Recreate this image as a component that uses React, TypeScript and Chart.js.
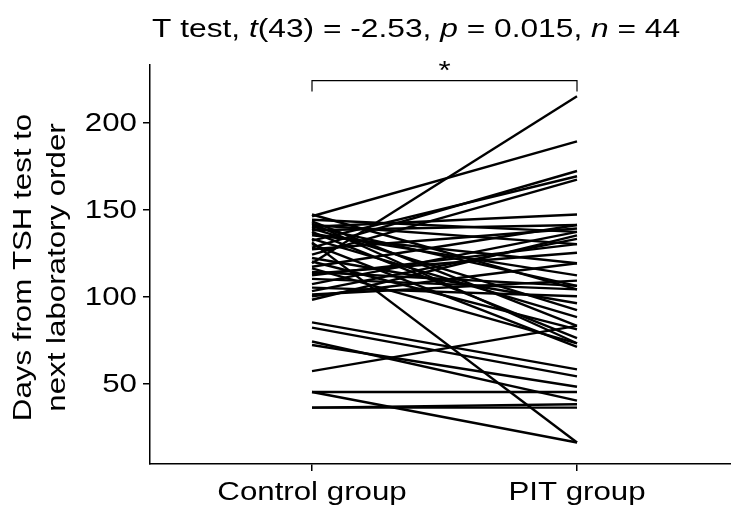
import React, { useEffect, useRef } from "react";
import { Chart, registerables } from "chart.js";

Chart.register(...registerables);

const W = 731;
const H = 512;

const categories = ["Control group", "PIT group"];
const controlGroup = [
  119, 146, 128, 132, 124, 140, 131, 45, 57, 74, 72, 85, 82, 45, 36, 36,
  147, 144, 143, 142, 141, 140, 139, 138, 137, 136, 135, 133, 130, 127,
  122, 120, 117, 116, 114, 113, 112, 110, 107, 105, 103, 101, 100, 98,
];
const pitGroup = [
  215, 189, 172, 169, 167, 147, 16, 16, 83, 40, 48, 58, 54, 45, 38, 36,
  104, 137, 83, 73, 130, 106, 92, 141, 76, 112, 119, 88, 71, 139,
  96, 81, 141, 73, 106, 125, 130, 104, 137, 100, 133, 109, 119, 135,
];
const yTicks = [50, 100, 150, 200];
const titleParts = [
  { text: "T test, ", italic: false },
  { text: "t", italic: true },
  { text: "(43) = -2.53, ", italic: false },
  { text: "p", italic: true },
  { text: " = 0.015, ", italic: false },
  { text: "n", italic: true },
  { text: " = 44", italic: false },
];
const yTitle = ["Days from TSH test to", "next laboratory order"];
const sigLabel = "*";
const sigValue = 224;

const FONT = '"Liberation Sans", Arial, Helvetica, sans-serif';
const SIZE = 25;
const KX = 1.25;

const textPlugin = {
  id: "customTexts",
  afterDraw(chart: any) {
    const ctx = chart.ctx as CanvasRenderingContext2D;
    const xs = chart.scales.x;
    const ys = chart.scales.y;
    const area = chart.chartArea;
    ctx.save();
    ctx.fillStyle = "#000";
    ctx.strokeStyle = "#000";
    ctx.textBaseline = "alphabetic";
    const font = (it: boolean) => `${it ? "italic " : ""}${SIZE}px ${FONT}`;

    // y tick labels
    for (const v of yTicks) {
      const py = ys.getPixelForValue(v);
      ctx.save();
      ctx.translate(area.left - 13, py + 9);
      ctx.scale(KX, 1);
      ctx.font = font(false);
      ctx.textAlign = "right";
      ctx.fillText(String(v), 0, 0);
      ctx.restore();
    }

    // x tick labels
    categories.forEach((c, i) => {
      const px = xs.getPixelForValue(i + 1);
      ctx.save();
      ctx.translate(px, area.bottom + 36);
      ctx.scale(KX, 1);
      ctx.font = font(false);
      ctx.textAlign = "center";
      ctx.fillText(c, 0, 0);
      ctx.restore();
    });

    // y title (rotated)
    const cy = (area.top + area.bottom) / 2 + 3;
    const xsT = [31, 65];
    yTitle.forEach((line, i) => {
      ctx.save();
      ctx.translate(xsT[i], cy);
      ctx.rotate(-Math.PI / 2);
      ctx.scale(KX, 1);
      ctx.font = font(false);
      ctx.textAlign = "center";
      ctx.fillText(line, 0, 0);
      ctx.restore();
    });

    // title with italic parts
    ctx.save();
    ctx.translate(area.left + 2, 37);
    ctx.scale(KX * 1.015, 1);
    ctx.textAlign = "left";
    let x = 0;
    for (const p of titleParts) {
      ctx.font = font(p.italic);
      ctx.fillText(p.text, x, 0);
      x += ctx.measureText(p.text).width;
    }
    ctx.restore();

    // significance bracket
    const x1 = xs.getPixelForValue(1);
    const x2 = xs.getPixelForValue(2);
    const by = ys.getPixelForValue(sigValue);
    ctx.lineWidth = 1.2;
    ctx.beginPath();
    ctx.moveTo(x1, by + 11);
    ctx.lineTo(x1, by);
    ctx.lineTo(x2, by);
    ctx.lineTo(x2, by + 11);
    ctx.stroke();
    ctx.save();
    ctx.translate((x1 + x2) / 2, by - 2);
    ctx.scale(KX, 1);
    ctx.font = font(false);
    ctx.textAlign = "center";
    ctx.fillText(sigLabel, 0, 0);
    ctx.restore();

    ctx.restore();
  },
};

export default function App() {
  const ref = useRef<HTMLCanvasElement | null>(null);
  useEffect(() => {
    if (!ref.current) return;
    const datasets = controlGroup.map((c, i) => ({
      label: `Subject ${i + 1}`,
      data: [
        { x: 1, y: c },
        { x: 2, y: pitGroup[i] },
      ],
      borderColor: "#000",
      backgroundColor: "#000",
      borderWidth: 2.4,
      pointRadius: 0,
      fill: false,
      tension: 0,
    }));
    const left = 150;
    const right = W;
    const px1 = 312;
    const px2 = 577;
    const unit = px2 - px1;
    const xMin = 1 - (px1 - left) / unit;
    const xMax = 1 + (right - px1) / unit;
    const top = 65;
    const bottom = 464;
    const perUnit = (383.3 - 122.3) / 150;
    const yMin = 50 - (bottom - 383.3) / perUnit;
    const yMax = 200 + (122.3 - top) / perUnit;

    const chart = new Chart(ref.current, {
      type: "line",
      data: { datasets },
      options: {
        animation: false,
        responsive: false,
        devicePixelRatio: 1,
        layout: { padding: { top, left: 0, right: 0, bottom: 0 } },
        plugins: {
          legend: { display: false },
          tooltip: { enabled: false },
          title: { display: false },
        },
        scales: {
          x: {
            type: "linear",
            min: xMin,
            max: xMax,
            afterBuildTicks: (s: any) => {
              s.ticks = [{ value: 1 }, { value: 2 }];
            },
            afterFit: (s: any) => {
              s.height = H - bottom;
            },
            ticks: { display: false },
            grid: {
              display: true,
              drawOnChartArea: false,
              drawTicks: true,
              tickLength: 7,
              color: "#000",
              lineWidth: 1.5,
            },
            border: { display: true, color: "#000", width: 1.5 },
          },
          y: {
            type: "linear",
            min: yMin,
            max: yMax,
            afterBuildTicks: (s: any) => {
              s.ticks = yTicks.map((v) => ({ value: v }));
            },
            afterFit: (s: any) => {
              s.width = left;
            },
            ticks: { display: false },
            grid: {
              display: true,
              drawOnChartArea: false,
              drawTicks: true,
              tickLength: 7,
              color: "#000",
              lineWidth: 1.5,
            },
            border: { display: true, color: "#000", width: 1.5 },
          },
        },
      },
      plugins: [textPlugin],
    });
    return () => chart.destroy();
  }, []);
  return (
    <div style={{ position: "absolute", left: 0, top: 0, width: W, height: H, background: "#fff" }}>
      <canvas ref={ref} width={W} height={H} style={{ width: W, height: H, display: "block" }} />
    </div>
  );
}
